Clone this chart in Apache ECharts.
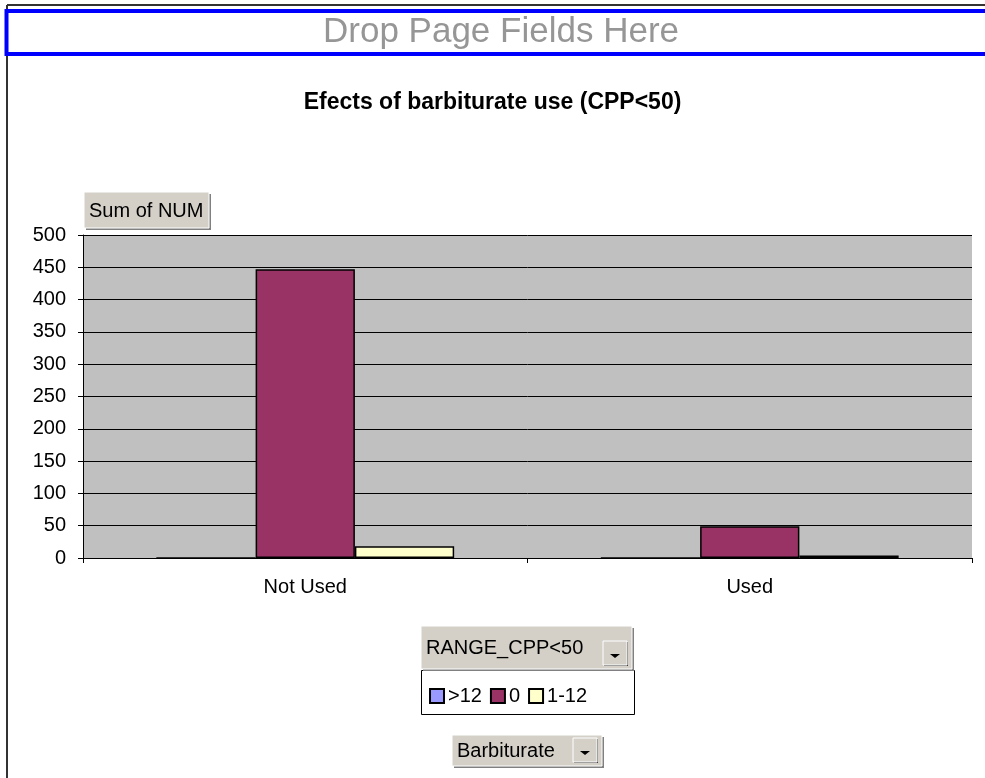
<!DOCTYPE html>
<html>
<head>
<meta charset="utf-8">
<script src="https://cdn.jsdelivr.net/npm/echarts@6/dist/echarts.min.js"></script>
<style>
  html, body { margin: 0; padding: 0; background: #fff; }
  #chart { width: 985px; height: 778px; }
</style>
</head>
<body>
<div id="chart"></div>
<script>
// data
var categories = ['Not Used', 'Used'];
var seriesNames = ['>12', '0', '1-12'];
var valuesGt12 = [0, 0];
var valuesZero = [447, 49];
var values1to12 = [18, 4];
var yTicks = [0, 500, 50];

var colors = ['#9999FF', '#993366', '#FFFFCC'];
var font = '"Liberation Sans", Arial, sans-serif';

var myChart = echarts.init(document.getElementById('chart'));

// little grey excel-style field button
function fieldButton(x, y, w, h, label, withArrow) {
    var kids = [
        { type: 'rect', shape: { x: x + 2, y: y + 2, width: w, height: h }, style: { fill: '#808080' } },
        { type: 'rect', shape: { x: x, y: y, width: w, height: h }, style: { fill: '#D4D0C8', stroke: '#ffffff', lineWidth: 1 } },
        { type: 'text', x: x + 5, y: y + h / 2 + 1, style: { text: label, font: '20px ' + font, fill: '#000', verticalAlign: 'middle' } }
    ];
    if (withArrow) {
        var ax = x + w - 29, ay = y + h - 28, aw = 24, ah = 24;
        kids.push({ type: 'rect', shape: { x: ax + 1, y: ay + 1, width: aw, height: ah }, style: { fill: '#404040' } });
        kids.push({ type: 'rect', shape: { x: ax, y: ay, width: aw, height: ah }, style: { fill: '#D4D0C8', stroke: '#ffffff' } });
        kids.push({ type: 'polygon', shape: { points: [[ax + 7, ay + ah / 2 + 1], [ax + 17, ay + ah / 2 + 1], [ax + 12, ay + ah / 2 + 5]] }, style: { fill: '#000' } });
    }
    return { type: 'group', children: kids };
}

option = {
    animation: false,
    backgroundColor: '#ffffff',
    title: {
        text: 'Efects of barbiturate use (CPP<50)',
        left: 'center',
        top: 86,
        textStyle: { fontFamily: font, fontSize: 23, fontWeight: 'bold', color: '#000' }
    },
    legend: {
        data: seriesNames,
        left: 424,
        top: 681,
        itemWidth: 14,
        itemHeight: 14,
        itemGap: 8,
        icon: 'rect',
        textStyle: { fontFamily: font, fontSize: 20, color: '#000', padding: [0, 0, 0, -1] },
        selectedMode: false,
        z: 10
    },
    grid: { left: 83, right: 13, top: 235, bottom: 220, show: true, backgroundColor: '#C0C0C0', borderWidth: 0 },
    xAxis: {
        type: 'category',
        data: categories,
        axisLine: { lineStyle: { color: '#000', width: 1 } },
        axisTick: { show: true, length: 5, lineStyle: { color: '#000' } },
        axisLabel: { fontFamily: font, fontSize: 20, color: '#000', margin: 19 }
    },
    yAxis: {
        type: 'value',
        min: yTicks[0],
        max: yTicks[1],
        interval: yTicks[2],
        axisLine: { show: true, lineStyle: { color: '#000', width: 1 } },
        axisTick: { show: true, length: 5, lineStyle: { color: '#000' } },
        axisLabel: { fontFamily: font, fontSize: 20, color: '#000', margin: 17 },
        splitLine: { show: true, lineStyle: { color: '#000', width: 1 } }
    },
    series: [
        { name: seriesNames[0], type: 'bar', data: valuesGt12, barGap: '0%', barCategoryGap: '33%',
          itemStyle: { color: colors[0], borderColor: '#000', borderWidth: 1.5 } },
        { name: seriesNames[1], type: 'bar', data: valuesZero, barGap: '0%', barCategoryGap: '33%',
          itemStyle: { color: colors[1], borderColor: '#000', borderWidth: 1.5 } },
        { name: seriesNames[2], type: 'bar', data: values1to12, barGap: '0%', barCategoryGap: '33%',
          itemStyle: { color: colors[2], borderColor: '#000', borderWidth: 1.5 } }
    ],
    graphic: [
        // outer frame lines
        { type: 'line', shape: { x1: 7, y1: 5, x2: 985, y2: 5 }, style: { stroke: '#333', lineWidth: 2 } },
        { type: 'line', shape: { x1: 7, y1: 5, x2: 7, y2: 778 }, style: { stroke: '#333', lineWidth: 2 } },
        // page field drop zone
        { type: 'rect', shape: { x: 6.5, y: 11, width: 990, height: 43 }, style: { fill: '#fff', stroke: '#0000FF', lineWidth: 4 } },
        { type: 'text', x: 501, y: 32, style: { text: 'Drop Page Fields Here', font: '35px ' + font, fill: '#969696', align: 'center', verticalAlign: 'middle' } },
        fieldButton(84, 192, 125, 36, 'Sum of NUM', false),
        // legend box
        { type: 'rect', shape: { x: 421.5, y: 670.5, width: 213, height: 44 }, style: { fill: '#fff', stroke: '#000', lineWidth: 1 } },
        fieldButton(421, 626, 211, 43, 'RANGE_CPP<50', true),
        fieldButton(452, 735, 150, 31, 'Barbiturate', true)
    ]
};

myChart.setOption(option);
</script>
</body>
</html>
